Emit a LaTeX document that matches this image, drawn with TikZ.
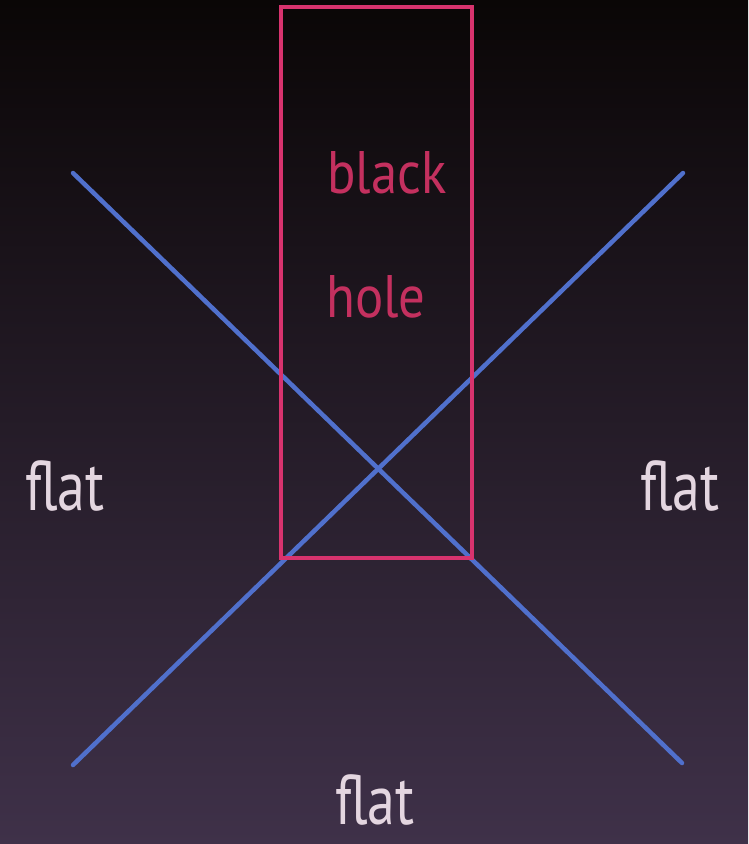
\documentclass[tikz,border=0pt]{standalone}
\usepackage{fontspec}
\newfontfamily\bhfont[FakeStretch=0.88]{PT Sans}
\newfontfamily\flatfont[FakeStretch=0.8]{PT Sans}
\usepackage{tikz}
\usetikzlibrary{calc}
\usepackage{xcolor}
\definecolor{bhpink}{HTML}{D8336E}
\definecolor{bhtext}{HTML}{C4305F}
\definecolor{bhblue}{HTML}{5070CC}
\definecolor{bhflat}{HTML}{E4D6E0}
\definecolor{bgtop}{HTML}{0A0606}
\definecolor{bgmid}{HTML}{221A24}
\definecolor{bgbot}{HTML}{3F3149}
\tikzset{
    bhframe/.style={draw=bhpink, line width=4pt},
    bhray/.style={draw=bhblue, line width=4.5pt, line cap=round},
    bhlabel/.style={anchor=base, inner sep=0pt, text=bhtext, font=\bhfont\fontsize{60}{60}\selectfont},
    flatlabel/.style={anchor=base, inner sep=0pt, text=bhflat, font=\flatfont\fontsize{70}{70}\selectfont}
}
\begin{document}
\begin{tikzpicture}[x=1pt, y=-1pt]
        \shade[top color=bgtop, middle color=bgmid, bottom color=bgbot] (0,0) rectangle (748,844);
        \useasboundingbox (0,0) rectangle (748,844);

        % light rays
        \coordinate (tl) at (73,173);
        \coordinate (br) at (682,763);
        \coordinate (tr) at (683,173);
        \coordinate (bl) at (73,765);
        \foreach \a/\b in {tl/br,tr/bl}
            \draw[bhray] (\a) -- (\b);

        % black hole region
        \coordinate (bhnw) at (281,7);
        \coordinate (bhse) at (472,558);
        \draw[bhframe] (bhnw) rectangle (bhse);

        \node[bhlabel] (black) at (387,193) {black};
        \node[bhlabel] (hole) at (376,317) {hole};

        \node[flatlabel] (flatw) at (65,510) {flat};
        \node[flatlabel] (flate) at (680,510) {flat};
        \node[flatlabel] (flats) at (375,824) {flat};
    \end{tikzpicture}
\end{document}
